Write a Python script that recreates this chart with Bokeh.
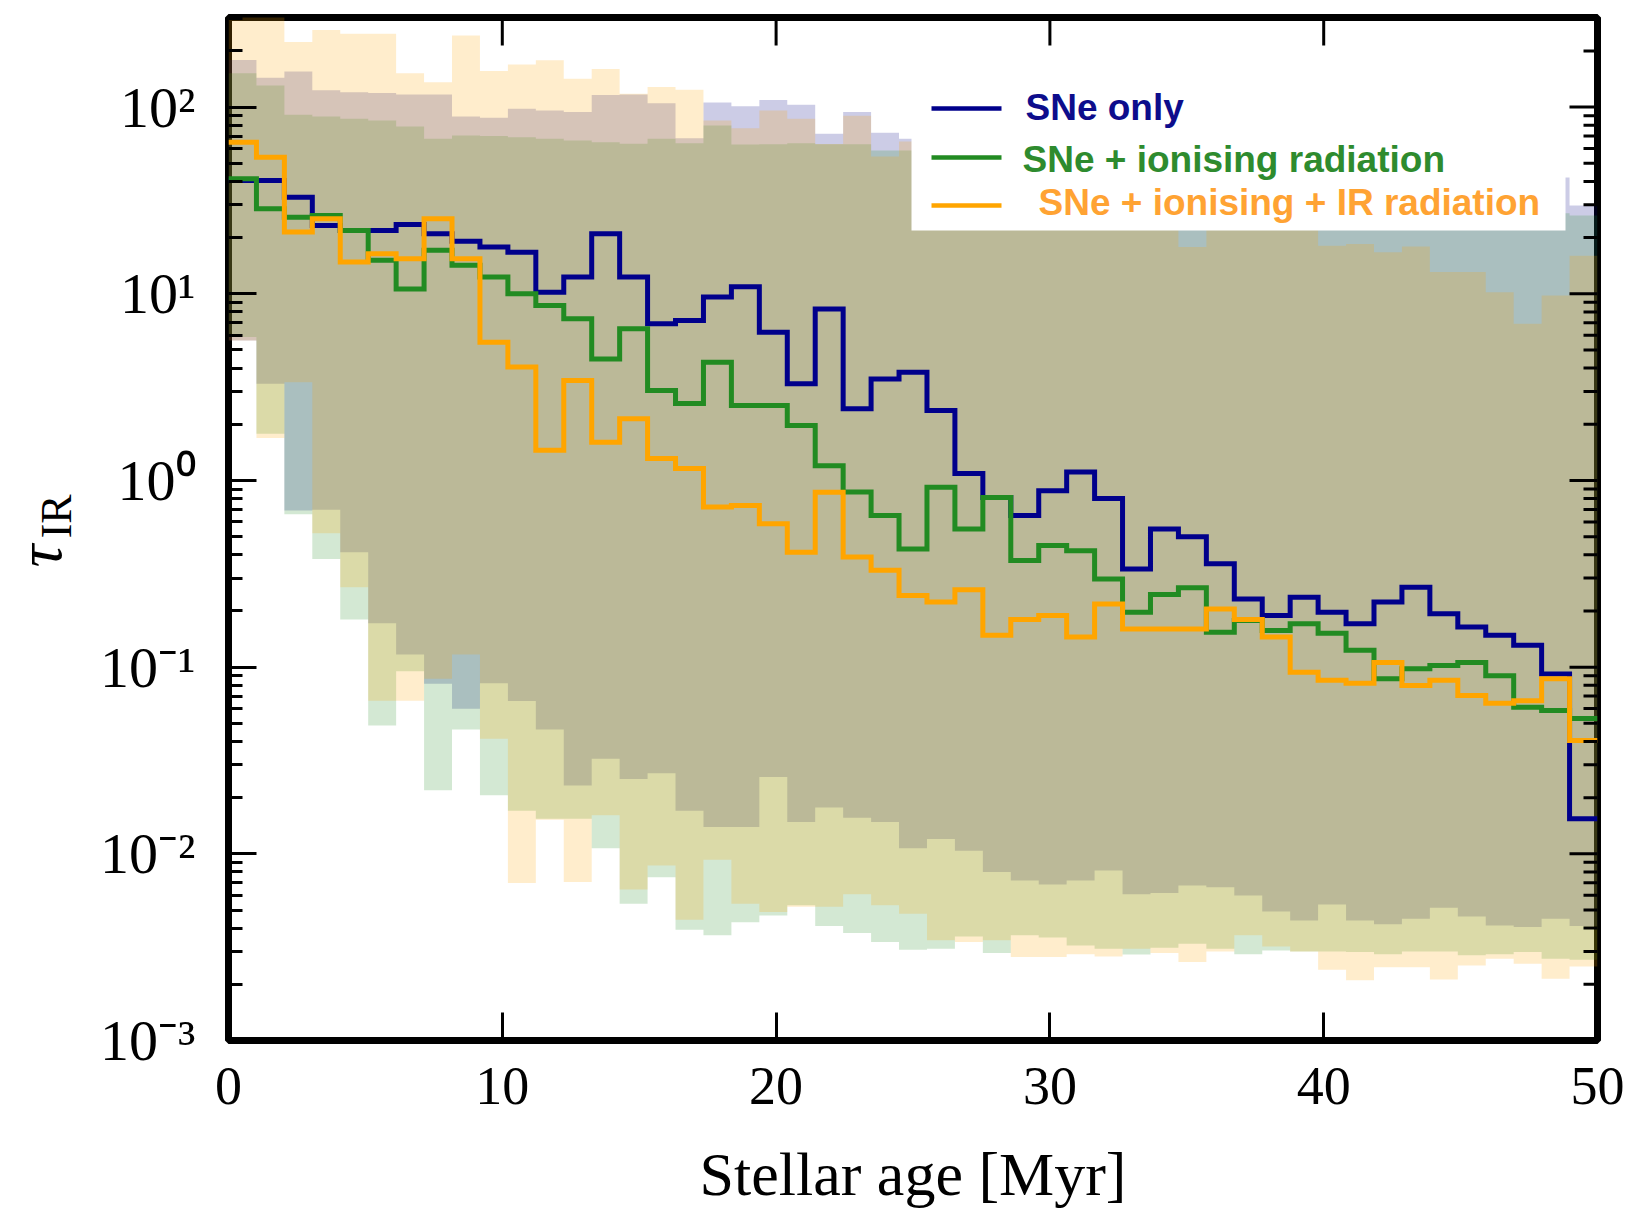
import numpy as np
from bokeh.plotting import figure
from bokeh.layouts import row
from bokeh.models import Range1d, FixedTicker
from bokeh.core.properties import value
from bokeh.embed import file_html
from bokeh.resources import INLINE

# ---------------- data (49 age bins between 0 and 50 Myr) ----------------
age_edges = np.linspace(0, 50, 50)

# median tau_IR per age bin (step lines)
sne_only = [40.4, 40.4, 32.9, 23.2, 21.8, 21.8, 23.5, 21.0, 19.1, 17.8,
            16.7, 10.2, 12.3, 21.0, 12.3, 6.9, 7.2, 9.6, 10.9, 6.23,
            3.3, 8.3, 2.42, 3.5, 3.8, 2.37, 1.09, 0.81, 0.65, 0.88,
            1.11, 0.80, 0.336, 0.55, 0.50, 0.358, 0.232, 0.189, 0.237, 0.197,
            0.171, 0.223, 0.268, 0.193, 0.164, 0.148, 0.131, 0.092, 0.0154]
sne_ion = [41.3, 28.5, 25.7, 26.3, 21.8, 15.1, 10.6, 17.1, 14.2, 12.3,
           10.0, 8.65, 7.35, 4.48, 6.5, 3.03, 2.58, 4.3, 2.52, 2.52,
           1.97, 1.2, 0.867, 0.65, 0.43, 0.92, 0.55, 0.81, 0.373, 0.449,
           0.42, 0.297, 0.197, 0.245, 0.266, 0.154, 0.178, 0.157, 0.171, 0.152,
           0.123, 0.0867, 0.098, 0.102, 0.106, 0.090, 0.061, 0.0586, 0.053]
sne_ion_ir = [64.9, 53.9, 21.4, 25.2, 14.8, 16.4, 15.4, 25.2, 15.4, 5.5,
              4.05, 1.45, 3.43, 1.6, 2.14, 1.31, 1.16, 0.72, 0.735, 0.586,
              0.413, 0.866, 0.389, 0.33, 0.242, 0.223, 0.26, 0.148, 0.18, 0.189,
              0.145, 0.218, 0.16, 0.16, 0.16, 0.205, 0.18, 0.145, 0.094, 0.085,
              0.082, 0.106, 0.0798, 0.085, 0.0705, 0.064, 0.066, 0.0867, 0.0405]

# upper envelopes
sne_only_hi = [179, 143.5, 155, 123, 120, 119, 117, 117, 89, 87.7,
               98, 96, 94, 116, 117, 105, 68.2, 106, 101, 109,
               103, 72, 94, 72.8, 67.6, 66, 64, 62, 60, 60,
               58, 56, 55, 54, 52, 50, 50, 48, 47, 46,
               46, 45, 44, 44, 43, 43, 42, 42, 29.7]
sne_ion_hi = [152, 130.6, 91, 89, 86.5, 84.7, 78.7, 67.6, 70.4, 70,
              69, 67.6, 66.2, 64.9, 63.6, 67.6, 64.1, 79.7, 63, 63.3,
              64, 63.3, 63.3, 58.6, 58.6, 56, 55, 52, 50, 50,
              48, 46, 45, 44, 40, 40, 38, 36, 35, 34,
              33, 32, 31, 30, 30, 29, 28, 27, 26.3]
sne_ion_ir_hi = [350, 350, 223, 259, 247, 247, 152, 136, 242, 156,
                 169, 178, 142, 160, 118, 128, 124, 84.7, 77, 96,
                 86.5, 63.5, 90, 54.4, 65.4, 52, 50, 45, 40, 38,
                 36, 32, 30, 26, 17.8, 25, 24, 23, 22, 18.1,
                 18.5, 16.7, 17.9, 13.1, 13.1, 10.2, 6.9, 9.8, 16]

# lower envelopes
sne_only_lo = [5.62, 3.3, 0.69, 0.697, 0.413, 0.172, 0.117, 0.0815, 0.0598, 0.082,
               0.0658, 0.0464, 0.0232, 0.0323, 0.0252, 0.027, 0.017, 0.0139, 0.0139, 0.0258,
               0.0148, 0.0177, 0.0156, 0.0148, 0.0107, 0.012, 0.0104, 0.008, 0.0072, 0.00686,
               0.0072, 0.00815, 0.00607, 0.00616, 0.00677, 0.00663, 0.00598, 0.00491, 0.0044, 0.00536,
               0.0044, 0.00419, 0.00449, 0.00514, 0.00462, 0.00413, 0.00405, 0.00449, 0.0041]
sne_ion_lo = [5.86, 1.78, 0.66, 0.38, 0.18, 0.0487, 0.095, 0.0219, 0.0464, 0.0206,
              0.017, 0.0154, 0.0154, 0.0107, 0.0054, 0.0075, 0.00392, 0.00366, 0.0043, 0.00468,
              0.0053, 0.0041, 0.00376, 0.00337, 0.00306, 0.0031, 0.00361, 0.00294, 0.00366, 0.00356,
              0.00323, 0.0031, 0.00289, 0.00314, 0.0033, 0.0031, 0.0029, 0.00303, 0.003, 0.003,
              0.00298, 0.0029, 0.003, 0.003, 0.00286, 0.0029, 0.00298, 0.00274, 0.00271]
sne_ion_ir_lo = [5.62, 1.69, 3.36, 0.522, 0.268, 0.066, 0.066, 0.0867, 0.117, 0.0413,
                 0.00697, 0.0152, 0.00706, 0.0161, 0.00643, 0.00867, 0.00443, 0.0093, 0.0054, 0.00488,
                 0.0052, 0.0052, 0.00607, 0.0053, 0.00477, 0.00344, 0.00337, 0.00344, 0.0028, 0.0028,
                 0.0029, 0.00282, 0.0031, 0.00294, 0.00263, 0.0030, 0.00366, 0.00319, 0.0030, 0.00239,
                 0.0021, 0.00247, 0.00247, 0.00212, 0.00252, 0.00274, 0.00258, 0.00214, 0.00249]

series_names = ["SNe only", "SNe + ionising radiation", "SNe + ionising + IR radiation"]
x_ticks = [0, 10, 20, 30, 40, 50]
y_ticks = [10.0 ** k for k in range(-3, 3)]
y_tick_labels = ["10\u207b\u00b3", "10\u207b\u00b2", "10\u207b\u00b9", "10\u2070", "10\u00b9", "10\u00b2"]
y_label_main, y_label_sub = "\u03c4", "IR"
x_label = "Stellar age [Myr]"

# ---------------- styling ----------------
line_colors = ["#00008b", "#228b22", "#ffa500"]
fill_colors = ["#000080", "#228b22", "#ffa500"]
text_colors = ["#0d0d8c", "#2e8b2e", "#ffa333"]

W, H = 1633, 1212
LW = 90                       # width of the strip that holds the y-axis title
L, R, T, B = 228, 1597, 17, 1040   # frame edges in page pixels
Y_TOP = 10 ** 2.48
LOG_LO, LOG_HI = -3.0, 2.48


def px_x(px):
    return (px - L) / (R - L) * 50.0


def px_y(py):
    return 10 ** (LOG_HI - (py - T) / (B - T) * (LOG_HI - LOG_LO))


PX_PER_X = (R - L) / 50.0
PX_PER_DEC = (B - T) / (LOG_HI - LOG_LO)

# ---------------- strip with the y-axis title ----------------
lab = figure(width=LW, height=H, x_range=Range1d(0, LW), y_range=Range1d(H, 0),
             output_backend="svg", toolbar_location=None,
             x_axis_location=None, y_axis_location=None,
             min_border=0, outline_line_color=None)
lab.xgrid.visible = False
lab.ygrid.visible = False
lab.text(x=[39], y=[638], text=[y_label_main], angle=np.pi / 2,
         text_font=value("Liberation Serif"), text_font_style="italic",
         text_font_size="64px", text_align="center", text_baseline="middle",
         text_color="black")
lab.text(x=[56], y=[591], text=[y_label_sub], angle=np.pi / 2,
         text_font=value("Liberation Serif"), text_font_size="44px",
         text_align="center", text_baseline="middle", text_color="black")

# ---------------- main plot ----------------
p = figure(width=W - LW, height=H, x_range=Range1d(0, 50), y_range=Range1d(1e-3, Y_TOP),
           y_axis_type="log", output_backend="svg", toolbar_location=None,
           min_border_left=L - LW, min_border_right=W - R, min_border_top=T,
           min_border_bottom=H - B)
p.xgrid.visible = False
p.ygrid.visible = False
p.background_fill_color = "white"
p.border_fill_color = "white"
p.outline_line_color = "black"
p.outline_line_width = 7


def close(v):
    return list(v) + [v[-1]]


his = [sne_only_hi, sne_ion_hi, sne_ion_ir_hi]
los = [sne_only_lo, sne_ion_lo, sne_ion_ir_lo]
meds = [sne_only, sne_ion, sne_ion_ir]

for hi, lo, c in zip(his, los, fill_colors):
    p.varea_step(x=list(age_edges), y1=close(lo), y2=close(hi), step_mode="after",
                 fill_color=c, fill_alpha=0.2)

for med, c in zip(meds, line_colors):
    p.step(x=list(age_edges), y=close(med), mode="after", line_color=c, line_width=5,
           line_join="miter")

# legend (drawn by hand so that each label has its own colour)
p.quad(left=[px_x(911)], right=[px_x(1565)], bottom=[px_y(230)], top=[px_y(T + 4)],
       fill_color="white", line_color=None)
leg_line_y = [px_y(108), px_y(157), px_y(205)]
p.segment(x0=[px_x(931)] * 3, x1=[px_x(1001)] * 3, y0=leg_line_y, y1=leg_line_y,
          line_color=line_colors, line_width=4.5)
p.text(x=[px_x(1025), px_x(1022), px_x(1038)],
       y=[px_y(106.5), px_y(158.5), px_y(201.5)],
       text=series_names, text_color=text_colors,
       text_font=value("Liberation Sans"), text_font_style="bold",
       text_font_size="37px", text_baseline="alphabetic", text_align="left")

# mirrored inward ticks on top and right
top_x = [t for t in x_ticks if 0 < t < 50]
p.segment(x0=top_x, x1=top_x, y0=[Y_TOP] * len(top_x),
          y1=[Y_TOP / 10 ** (28 / PX_PER_DEC)] * len(top_x),
          line_color="black", line_width=3)
minor_y = [m * 10.0 ** k for k in range(-3, 3) for m in range(2, 10) if m * 10.0 ** k < Y_TOP]
p.segment(x0=[50] * len(y_ticks), x1=[50 - 28 / PX_PER_X] * len(y_ticks),
          y0=y_ticks, y1=y_ticks, line_color="black", line_width=3)
p.segment(x0=[50] * len(minor_y), x1=[50 - 14 / PX_PER_X] * len(minor_y),
          y0=minor_y, y1=minor_y, line_color="black", line_width=3)

# axes
yt = FixedTicker(ticks=y_ticks, minor_ticks=minor_y)
xt = FixedTicker(ticks=x_ticks, minor_ticks=[])


def style_axis(ax):
    ax.axis_line_color = None
    ax.major_tick_in = 28
    ax.major_tick_out = 0
    ax.minor_tick_in = 14
    ax.minor_tick_out = 0
    ax.major_tick_line_width = 3
    ax.minor_tick_line_width = 3
    ax.major_tick_line_color = "black"
    ax.minor_tick_line_color = "black"
    ax.major_label_text_font = "Liberation Serif"
    ax.major_label_text_color = "black"


xa = p.xaxis[0]
xa.ticker = xt
style_axis(xa)
xa.major_label_text_font_size = "54px"
xa.major_label_standoff = 27
xa.axis_label = x_label
xa.axis_label_text_font = "Liberation Serif"
xa.axis_label_text_font_style = "normal"
xa.axis_label_text_color = "black"
xa.axis_label_text_font_size = "62px"
xa.axis_label_standoff = 33

ya = p.yaxis[0]
ya.ticker = yt
style_axis(ya)
ya.major_label_text_font_size = "58px"
ya.major_label_standoff = 33
ya.major_label_overrides = {t: s for t, s in zip(y_ticks, y_tick_labels)}

layout = row(lab, p, spacing=0)
open("out.html", "w").write(file_html(layout, INLINE))
